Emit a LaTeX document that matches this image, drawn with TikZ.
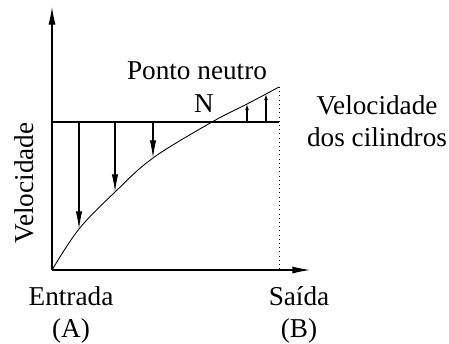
\documentclass[tikz,border=0pt]{standalone}
\usepackage{fontspec}
\setmainfont{Liberation Serif}
\usetikzlibrary{arrows.meta}

\begin{document}
\begin{tikzpicture}[
    x=0.02cm, y=-0.02cm,
    line width=0.6pt,
    every node/.style={font=\fontsize{15.5}{18}\selectfont, inner sep=0pt, align=center},
    axis/.style={-{Latex[length=10pt, width=4pt]}},
    bigarrow/.style={-{Latex[length=10pt, width=3.6pt]}},
    smallarrow/.style={-{Latex[length=3.5pt, width=2.2pt]}}
]
\useasboundingbox (0,0) rectangle (449,343);

% axes
\coordinate (origin) at (52,270);
\coordinate (ytop) at (52,7);
\coordinate (xend) at (310,270);
\draw[axis] (origin) -- (ytop);
\draw[axis] (origin) -- (xend);

% roll speed and exit line
\coordinate (lstart) at (52,122);
\coordinate (lend) at (279,122);
\coordinate (cend) at (279,87);
\coordinate (bottom) at (279,270);
\draw (lstart) -- (lend);
\draw[dotted, line width=0.4pt] (cend) -- (bottom);

% strip speed
\coordinate (c1) at (79,229);
\coordinate (c2) at (115,192);
\coordinate (c3) at (153,158);
\coordinate (neutral) at (212,122);
\coordinate (c4) at (247,104);
\coordinate (c5) at (266,94);
\draw[line width=0.5pt] plot[smooth, tension=0.6] coordinates {(origin) (c1) (c2) (c3) (neutral) (c4) (c5) (cend)};

\draw[bigarrow] (lstart -| c1) -- (c1);
\draw[bigarrow] (lstart -| c2) -- (c2);
\draw[bigarrow] (lstart -| c3) -- (c3);
\draw[smallarrow] (lstart -| c4) -- (c4);
\draw[smallarrow] (lstart -| c5) -- (c5);

% labels
\node[anchor=base] (ponto) at (197,79) {Ponto neutro};
\node[anchor=base] (n) at (204,112) {N};
\node[anchor=base] (cil) at (377,146) {Velocidade\\dos cilindros};
\node[anchor=base, rotate=90] (vel) at (33,183) {Velocidade};
\node[anchor=base] (entrada) at (71,337) {Entrada\\(A)};
\node[anchor=base] (saida) at (299,337) {Saída\\(B)};

\end{tikzpicture}
\end{document}
